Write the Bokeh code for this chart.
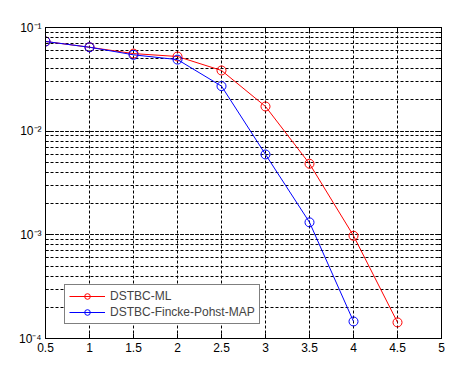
from bokeh.plotting import figure
from bokeh.models import LogAxis, LinearAxis, FixedTicker, LogTicker, Legend, LegendItem
from bokeh.embed import file_html
from bokeh.resources import INLINE

snr = [0.5, 1, 1.5, 2, 2.5, 3, 3.5, 4, 4.5]
ber_ml = [0.0733, 0.0645, 0.0560, 0.0525, 0.0385, 0.0173, 0.00485, 0.00098, 0.000143]
snr_fp = [0.5, 1, 1.5, 2, 2.5, 3, 3.5, 4]
ber_fp = [0.0733, 0.0645, 0.0545, 0.0490, 0.0272, 0.00596, 0.00132, 0.000146]
x_ticks = [0.5, 1, 1.5, 2, 2.5, 3, 3.5, 4, 4.5, 5]
y_ticks = [1e-4, 1e-3, 1e-2, 1e-1]
y_labels = ["10\u207b\u2074", "10\u207b\u00b3", "10\u207b\u00b2", "10\u207b\u00b9"]

FONT = "Liberation Sans"

p = figure(width=462, height=362, x_range=(0.5, 5), y_range=(1e-4, 1e-1),
           y_axis_type="log", output_backend="svg", toolbar_location=None,
           min_border_left=45, min_border_right=21, min_border_top=27, min_border_bottom=24,
           background_fill_color="white", border_fill_color="white")
p.outline_line_color = "black"
p.outline_line_width = 1

# axes
p.xaxis.ticker = FixedTicker(ticks=x_ticks)
p.xaxis.major_label_overrides = {t: (str(t) if t != int(t) else str(int(t))) for t in x_ticks}
p.yaxis.ticker = LogTicker(num_minor_ticks=10)
p.yaxis.major_label_overrides = {t: l for t, l in zip(y_ticks, y_labels)}
for ax in (p.xaxis[0], p.yaxis[0]):
    ax.axis_line_color = "black"
    ax.major_tick_in = 5
    ax.major_tick_out = 0
    ax.minor_tick_in = 3
    ax.minor_tick_out = 0
    ax.major_tick_line_color = "black"
    ax.minor_tick_line_color = "black"
    ax.major_label_text_font = FONT
    ax.major_label_text_font_size = "12px"
    ax.major_label_text_color = "black"
p.xaxis.major_label_standoff = 4
p.yaxis.major_label_standoff = 4

top = LinearAxis(ticker=FixedTicker(ticks=x_ticks), major_label_text_alpha=0,
                 major_label_text_font_size="1px", major_tick_in=5, major_tick_out=0,
                 minor_tick_in=0, minor_tick_out=0, axis_line_color="black")
p.add_layout(top, "above")
right = LogAxis(ticker=LogTicker(num_minor_ticks=10), major_label_text_alpha=0,
                major_label_text_font_size="1px", major_tick_in=5, major_tick_out=0,
                minor_tick_in=3, minor_tick_out=0, axis_line_color="black")
p.add_layout(right, "right")

# grids
p.xgrid.ticker = FixedTicker(ticks=x_ticks)
p.xgrid.grid_line_color = "black"
p.xgrid.grid_line_dash = "3 2"
p.xgrid.grid_line_width = 1
p.ygrid.grid_line_color = "black"
p.ygrid.grid_line_dash = "3 2"
p.ygrid.minor_grid_line_color = "black"
p.ygrid.minor_grid_line_dash = "3 2"

l1 = p.line(snr, ber_ml, line_color="red", line_width=1)
c1 = p.scatter(snr, ber_ml, marker="circle", size=9, line_color="red", fill_color=None, line_width=1)
l2 = p.line(snr_fp, ber_fp, line_color="blue", line_width=1)
c2 = p.scatter(snr_fp, ber_fp, marker="circle", size=9, line_color="blue", fill_color=None, line_width=1)

legend = Legend(items=[LegendItem(label="DSTBC-ML", renderers=[l1, c1]),
                       LegendItem(label="DSTBC-Fincke-Pohst-MAP", renderers=[l2, c2])],
                location=(19, 14), border_line_color="black", border_line_width=1,
                background_fill_alpha=1, label_text_font=FONT, label_text_font_size="12px",
                glyph_width=36, glyph_height=14, label_standoff=5, spacing=2, padding=4,
                margin=0, label_height=14)
p.add_layout(legend, "center")

open("out.html", "w").write(file_html(p, INLINE))
